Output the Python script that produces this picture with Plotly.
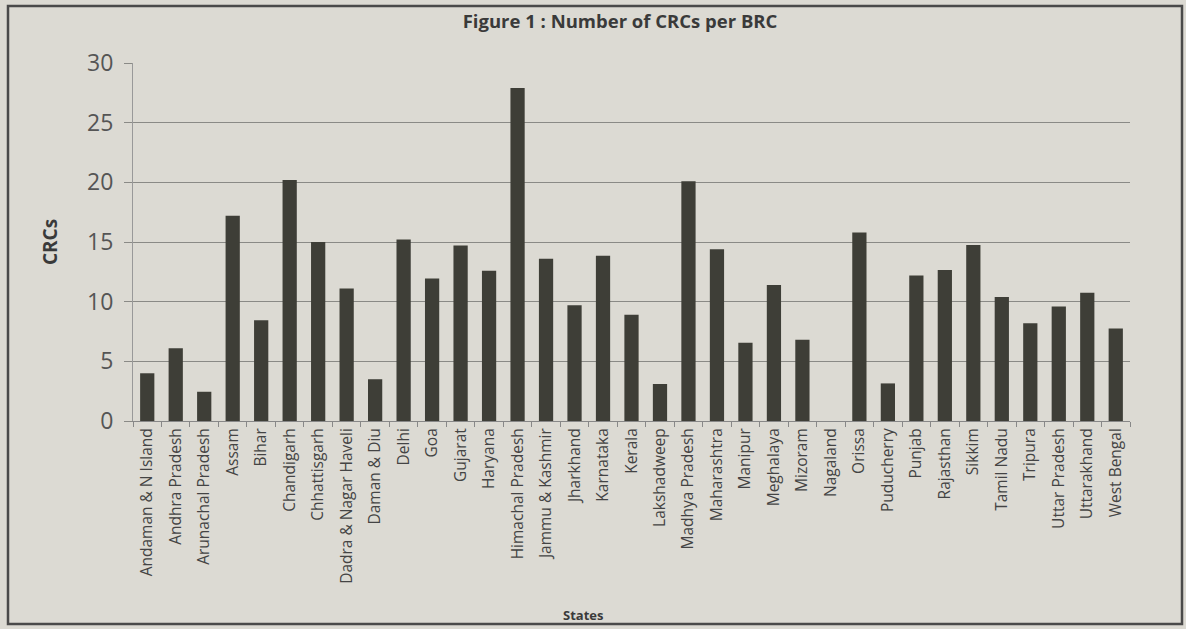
import plotly.graph_objects as go

states = ["Andaman & N Island", "Andhra Pradesh", "Arunachal Pradesh", "Assam", "Bihar",
          "Chandigarh", "Chhattisgarh", "Dadra & Nagar Haveli", "Daman & Diu", "Delhi",
          "Goa", "Gujarat", "Haryana", "Himachal Pradesh", "Jammu & Kashmir", "Jharkhand",
          "Karnataka", "Kerala", "Lakshadweep", "Madhya Pradesh", "Maharashtra", "Manipur",
          "Meghalaya", "Mizoram", "Nagaland", "Orissa", "Puducherry", "Punjab", "Rajasthan",
          "Sikkim", "Tamil Nadu", "Tripura", "Uttar Pradesh", "Uttarakhand", "West Bengal"]
crcs = [4.0, 6.1, 2.45, 17.2, 8.45, 20.2, 15.0, 11.1, 3.5, 15.2,
        11.95, 14.7, 12.6, 27.9, 13.6, 9.7, 13.85, 8.9, 3.1, 20.1,
        14.4, 6.55, 11.4, 6.8, 0, 15.8, 3.15, 12.2, 12.65, 14.75,
        10.4, 8.2, 9.6, 10.75, 7.75]
y_ticks = [0, 5, 10, 15, 20, 25, 30]

W, H = 1186, 629
L, R, T, B = 133, 56, 63, 208
pw, ph = W - L - R, H - T - B

def px(x):
    return (x - L) / pw

def py(y):
    return (H - B - y) / ph

bg = "#dcdad3"
fig = go.Figure(go.Bar(x=states, y=crcs, marker=dict(color="#3e3e37", line=dict(width=0)),
                       width=0.5))

fig.update_layout(
    width=W, height=H,
    margin=dict(l=L, r=R, t=T, b=B, autoexpand=False),
    paper_bgcolor=bg, plot_bgcolor=bg,
    font=dict(family="Open Sans", color="#444"),
    showlegend=False,
    title=dict(text="<b>Figure 1 : Number of CRCs per BRC</b>", x=px(620), xref="paper",
               y=1 - 22 / H, yref="container", xanchor="center", yanchor="middle",
               font=dict(size=18.5, color="#3a3a3a", family="Open Sans")),
    xaxis=dict(type="category", tickangle=-90, tickfont=dict(size=15.5, color="#444"),
               showgrid=False, ticks="outside", tickson="boundaries", ticklen=5,
               tickcolor="#888", showline=True, linecolor="#888", linewidth=1,
               range=[-0.5, len(states) - 0.5]),
    yaxis=dict(range=[0, 30], tickvals=y_ticks, tickfont=dict(size=23, color="#555"),
               showgrid=True, gridcolor="#8a8a86", gridwidth=1, zeroline=False,
               showline=True, linecolor="#999", linewidth=1, ticks="outside",
               ticklen=8, tickcolor="#8a8a86", ticklabelstandoff=6,
               title=dict(text="<b>CRCs</b>", font=dict(size=19, color="#3a3a3a"), standoff=24)),
)

fig.add_annotation(text="<b>States</b>", x=px(583), y=py(615), xref="paper", yref="paper",
                   showarrow=False, font=dict(size=13, color="#3a3a3a"),
                   xanchor="center", yanchor="middle")

fig.add_shape(type="rect", xref="paper", yref="paper",
              x0=px(8), x1=px(1182), y0=py(624), y1=py(6),
              line=dict(color="#4a4a4a", width=2.5), fillcolor="rgba(0,0,0,0)", layer="below")

fig.write_html("out.html")
